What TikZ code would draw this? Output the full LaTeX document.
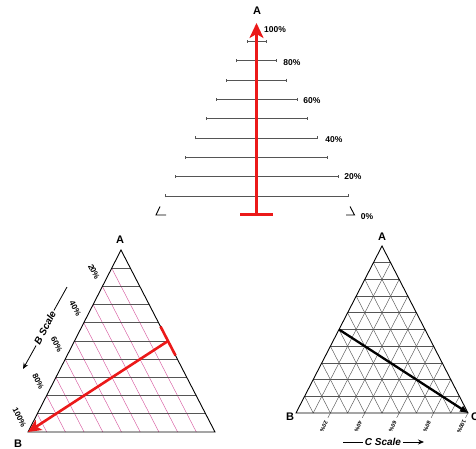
\documentclass[tikz,border=0pt]{standalone}
\usepackage{fontspec}
\setmainfont{Liberation Sans}
\usetikzlibrary{arrows.meta,calc}
\definecolor{pinkline}{RGB}{215,90,160}
\definecolor{gridgray}{RGB}{85,85,85}
\definecolor{redline}{RGB}{235,25,25}
\begin{document}
\begin{tikzpicture}[x=1pt,y=-1pt,
  vlabel/.style={font=\bfseries\fontsize{11}{11}\selectfont, inner sep=0pt},
  toppct/.style={font=\bfseries\fontsize{8.5}{8.5}\selectfont, inner sep=0pt},
  bpct/.style={font=\bfseries\fontsize{8}{8}\selectfont, inner sep=0pt, rotate=-63},
  cpct/.style={font=\bfseries\fontsize{5.5}{5.5}\selectfont, inner sep=0pt, rotate=-115},
  scalelbl/.style={font=\bfseries\itshape\fontsize{10}{10}\selectfont, inner sep=1.5pt},
  scaleline/.style={draw=gridgray, line width=0.6pt, {Bar[width=3pt]}-{Bar[width=3pt]}},
  hline/.style={draw=gridgray, line width=0.7pt},
  pline/.style={draw=pinkline, line width=0.45pt},
  gline/.style={draw=gridgray, line width=0.45pt},
  border/.style={draw=black, line width=0.9pt, line join=miter},
  redarrow/.style={draw=redline, line width=2.6pt, -{Stealth[length=15pt,width=14pt,inset=4pt]}},
  redbar/.style={draw=redline, line width=2.6pt},
  corner/.style={draw=black, line width=0.9pt}]
\useasboundingbox (0,0) rectangle (476,449);

% ---------------- top scale ----------------
\foreach \k in {0,...,8} {
  \pgfmathsetmacro\yy{41.5+19.3*\k}
  \pgfmathsetmacro\hw{10+10.25*\k}
  \draw[scaleline] ({256.5-\hw},\yy) -- ({256.5+\hw},\yy);
}
\coordinate (T0) at (256.5,214.5);
\coordinate (T100) at (256.5,23);
\coordinate (TbarL) at (240,214.5);
\coordinate (TbarR) at (273,214.5);
\draw[redarrow] (T0) -- (T100);
\draw[redbar] (TbarL) -- (TbarR);
\node[vlabel] (TA) at (257,11) {A};
\node[toppct] (p100) at (275,30) {100\%};
\node[toppct] (p80) at (292,63) {80\%};
\node[toppct] (p60) at (312,101) {60\%};
\node[toppct] (p40) at (334,140) {40\%};
\node[toppct] (p20) at (353,177) {20\%};
\node[toppct] (p0) at (367,217) {0\%};
\draw[corner] (160,206.5) -- (156,215) -- (166,215);
\draw[corner] (346,215) -- (354.5,215) -- (350,206.5);

% ---------------- left triangle ----------------
\coordinate (LA) at (121,250);
\coordinate (LB) at (28,432);
\coordinate (LC) at (215,432);
\foreach \k in {1,...,9} {
  \draw[pline] ($(LA)!\k/10!(LB)$) -- ($(LC)!\k/10!(LB)$);
}
\foreach \k in {1,...,9} {
  \draw[hline] ($(LA)!\k/10!(LB)$) -- ($(LA)!\k/10!(LC)$);
}
\draw[border] (LA) -- (LB) -- (LC) -- cycle;
\node[vlabel] (LAl) at (120,240) {A};
\node[vlabel] (LBl) at (18,444) {B};
\foreach \k/\t in {2/20\%,4/40\%,6/60\%,8/80\%,10/100\%} {
  \node[bpct] at ($(LA)!\k/10!(LB)+(-8.5,-14.5)$) {\t};
}
\node[scalelbl, rotate=63] (BS) at (45,328) {B Scale};
\coordinate (BStop) at (67,287);
\coordinate (BSbot) at (23,369);
\draw[line width=0.8pt] (BS.east) -- (BStop);
\draw[line width=0.8pt, -{Stealth[length=6pt,width=5pt]}] (BS.west) -- (BSbot);
\coordinate (LM) at ($(LA)!0.5!(LC)$);
\draw[redbar] ($(LA)!0.42!(LC)$) -- ($(LA)!0.58!(LC)$);
\draw[redline, line width=2.6pt, -{Stealth[length=13pt,width=12pt,inset=3pt]}] (LM) -- (LB);

% ---------------- right triangle ----------------
\coordinate (RA) at (382,246);
\coordinate (RB) at (296,413);
\coordinate (RC) at (468,413);
\foreach \k in {1,...,9} {
  \draw[gline] ($(RB)!\k/10!(RC)$) -- ($(RA)!\k/10!(RC)$);
  \draw[gline] ($(RA)!\k/10!(RB)$) -- ($(RC)!\k/10!(RB)$);
  \draw[hline] ($(RA)!\k/10!(RB)$) -- ($(RA)!\k/10!(RC)$);
}
\draw[border] (RA) -- (RB) -- (RC) -- cycle;
\node[vlabel] (RAl) at (382,237) {A};
\node[vlabel] (RBl) at (290,417) {B};
\node[vlabel, anchor=west] (RCl) at (471,417) {C};
\foreach \k/\t in {2/20\%,4/40\%,6/60\%,8/80\%,10/100\%} {
  \draw[gline] ($(RB)!\k/10!(RC)$) -- ++(-2.5,4.8);
  \node[cpct] at ($(RB)!\k/10!(RC)+(-6.5,13.5)$) {\t};
}
\coordinate (RM) at ($(RA)!0.5!(RB)$);
\draw[line width=2.3pt, -{Triangle[length=8pt,width=6pt]}] (RM) -- (RC);
\node[scalelbl] (CS) at (383,442) {C Scale};
\coordinate (CSl) at (343,442);
\coordinate (CSr) at (424,442);
\draw[line width=0.8pt] (CSl) -- (CS.west);
\draw[line width=0.8pt, -{Stealth[length=6pt,width=5pt]}] (CS.east) -- (CSr);
\end{tikzpicture}
\end{document}
